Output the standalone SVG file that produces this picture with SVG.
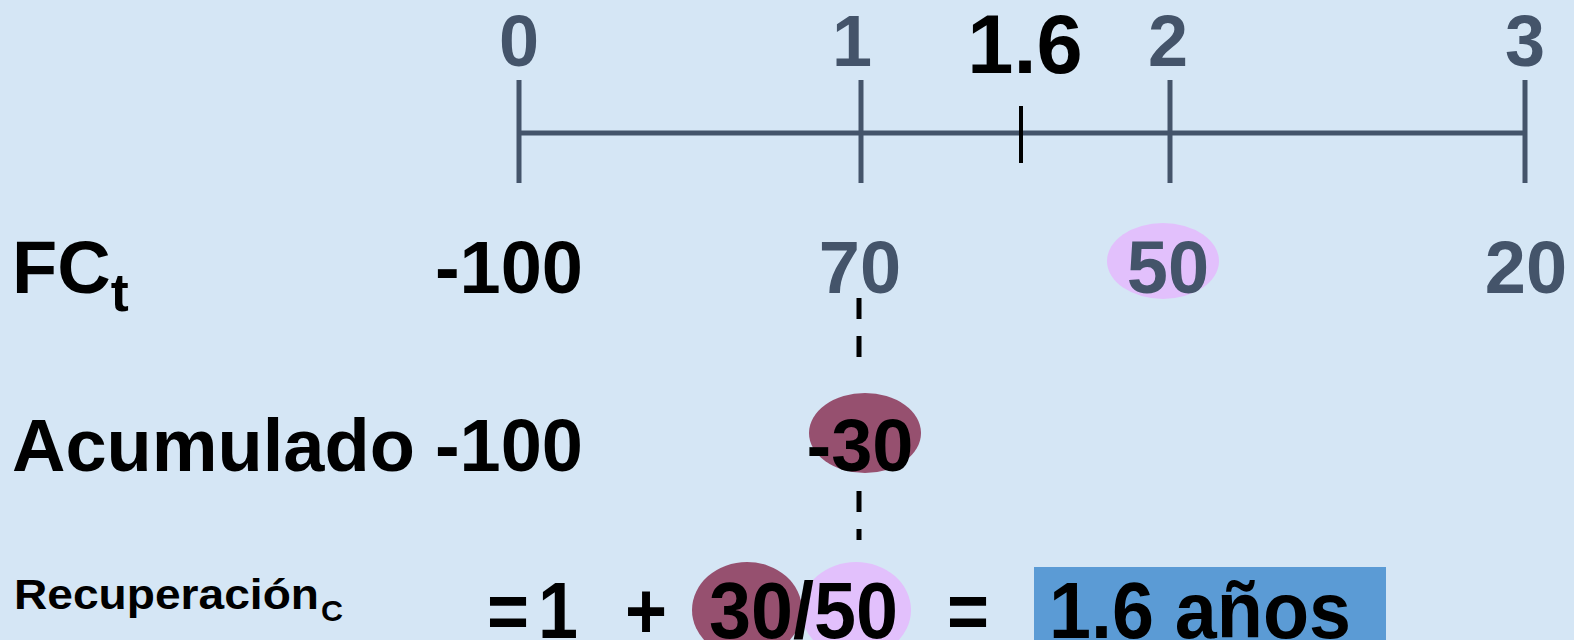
<svg xmlns="http://www.w3.org/2000/svg" width="1574" height="640" viewBox="0 0 1574 640">
  <style>
    text { font-family: "Liberation Sans", Arial, sans-serif; font-weight: bold; }
    .axis { font-size: 72px; fill: #44546A; text-anchor: middle; }
    .row { font-size: 74px; fill: #000000; }
    .slate { fill: #44546A; }
    .mid { text-anchor: middle; }
    .eq { font-size: 80px; fill: #000000; }
    .tick { stroke: #44546A; stroke-width: 5; }
    .dash { stroke: #000000; stroke-width: 5; stroke-dasharray: 21 17; }
  </style>
  <rect x="0" y="0" width="1574" height="640" fill="#D5E6F5"/>

  <g id="timeline">
    <line class="tick" x1="517" y1="133" x2="1526" y2="133"/>
    <line class="tick" x1="519" y1="80" x2="519" y2="183"/>
    <line class="tick" x1="861" y1="80" x2="861" y2="183"/>
    <line class="tick" x1="1170" y1="80" x2="1170" y2="183"/>
    <line class="tick" x1="1525" y1="80" x2="1525" y2="183"/>
    <line x1="1021" y1="106" x2="1021" y2="163" stroke="#000000" stroke-width="4"/>
    <text class="axis" x="519" y="66">0</text>
    <text class="axis" x="852" y="66">1</text>
    <text class="axis" x="1025" y="73" style="font-size:83px;fill:#000000">1.6</text>
    <text class="axis" x="1168" y="66">2</text>
    <text class="axis" x="1525" y="66">3</text>
  </g>

  <g id="connectors">
    <line class="dash" x1="859" y1="298" x2="859" y2="358"/>
    <line class="dash" x1="859" y1="491" x2="859" y2="540"/>
  </g>

  <g id="row-fc">
    <text class="row" x="12" y="293">FC<tspan font-size="54" dy="18">t</tspan></text>
    <text class="row" x="583" y="293" text-anchor="end">-100</text>
    <text class="row slate mid" x="860" y="293">70</text>
    <ellipse cx="1163" cy="261" rx="56" ry="38" fill="#E2C0FC"/>
    <text class="row slate mid" x="1168" y="293">50</text>
    <text class="row slate mid" x="1526" y="293">20</text>
  </g>

  <g id="row-acumulado">
    <text class="row" x="12" y="471">Acumulado</text>
    <text class="row" x="583" y="471" text-anchor="end">-100</text>
    <ellipse cx="865" cy="433" rx="56" ry="40" fill="#96506F"/>
    <text class="row mid" x="860" y="471">-30</text>
  </g>

  <g id="row-recuperacion">
    <text x="14" y="609" font-size="42" textLength="305" lengthAdjust="spacingAndGlyphs">Recuperación</text>
    <text x="321" y="621" font-size="30" textLength="22" lengthAdjust="spacingAndGlyphs">C</text>
    <ellipse cx="856" cy="610" rx="55" ry="48" fill="#E2C0FC"/>
    <ellipse cx="747" cy="610" rx="55" ry="48" fill="#96506F"/>
    <text class="eq" x="487" y="638" textLength="42" lengthAdjust="spacingAndGlyphs">=</text>
    <text class="eq" x="538" y="638" textLength="40" lengthAdjust="spacingAndGlyphs">1</text>
    <text class="eq" x="625" y="638" textLength="42" lengthAdjust="spacingAndGlyphs">+</text>
    <text class="eq" x="709" y="638" textLength="189" lengthAdjust="spacingAndGlyphs">30/50</text>
    <text class="eq" x="947" y="638" textLength="42" lengthAdjust="spacingAndGlyphs">=</text>
  </g>

  <g id="result">
    <rect x="1034" y="567" width="352" height="80" fill="#5B9BD5"/>
    <text class="eq" x="1049" y="638" textLength="302" lengthAdjust="spacingAndGlyphs">1.6 años</text>
  </g>
</svg>
